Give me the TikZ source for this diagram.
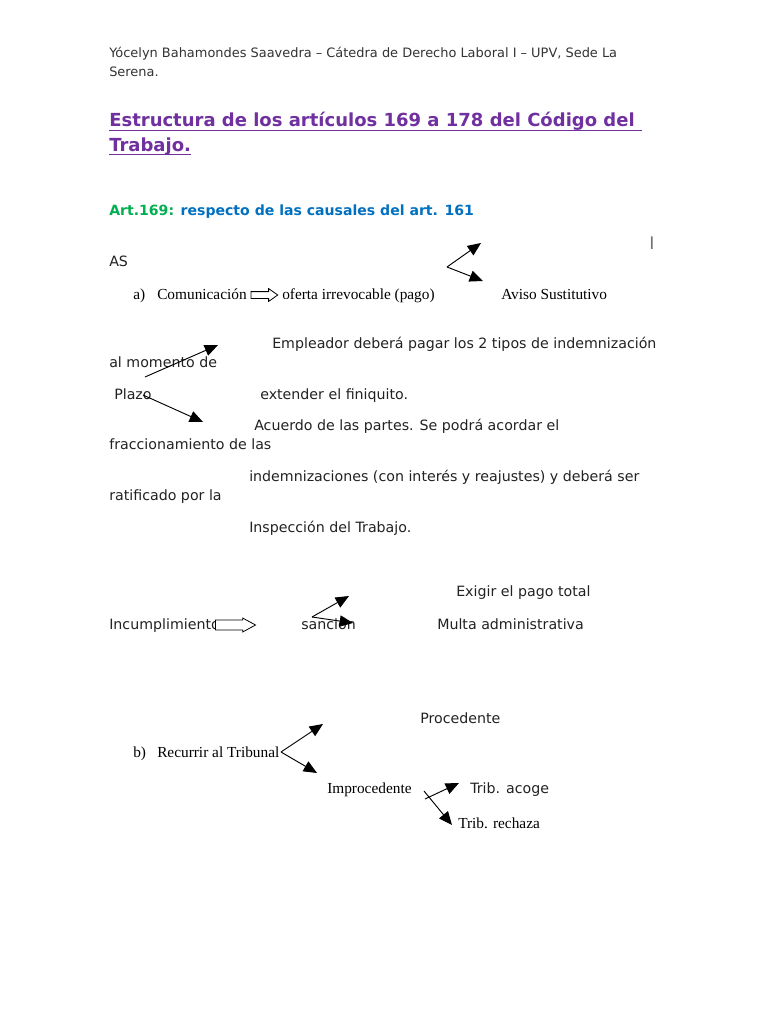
\documentclass[tikz,border=0pt]{standalone}
\usepackage{fontspec}
\setmainfont{DejaVu Sans}
\newfontfamily\timesfont{Liberation Serif}
\usetikzlibrary{arrows.meta, shapes.arrows}

\definecolor{titlepurple}{HTML}{7030A0}
\definecolor{artgreen}{HTML}{00B050}
\definecolor{artblue}{HTML}{0070C0}
\definecolor{bodytext}{HTML}{222222}

\begin{document}
\begin{tikzpicture}[
    x=0.75pt, y=-0.75pt,
    txt/.style={anchor=base west, inner sep=0pt, text=bodytext, font=\fontsize{10.65}{12}\selectfont},
    rm/.style={anchor=base west, inner sep=0pt, text=black, font=\timesfont\fontsize{11.5}{13}\selectfont},
    head/.style={anchor=base west, inner sep=0pt, text=black!80, font=\fontsize{9.7}{11}\selectfont},
    ttl/.style={anchor=base west, inner sep=0pt, text=titlepurple, font=\bfseries\fontsize{13.5}{15}\selectfont},
    ttlline/.style={draw=titlepurple, line width=1.1pt},
    tri/.style={-{Triangle[length=10pt, width=8.5pt]}, line width=0.7pt},
    openarrow/.style={single arrow, draw, fill=white, line width=0.6pt, inner xsep=0pt}
]
\useasboundingbox[fill=white] (0,0) rectangle (768,1024);

% Header and title
\node[head] (author) at (109,58) {Yócelyn Bahamondes Saavedra – Cátedra de Derecho Laboral I – UPV, Sede La};
\node[head] (author2) at (109,76) {Serena.};
\node[ttl] (title1) at (109,127) {Estructura de los artículos 169 a 178 del Código del};
\node[ttl] (title2) at (109,151) {Trabajo.};
\draw[ttlline] ([yshift=-2.6pt]title1.base west) -- ([xshift=5pt, yshift=-2.6pt]title1.base east);
\draw[ttlline] ([yshift=-2.6pt]title2.base west) -- ([yshift=-2.6pt]title2.base east);
\node[anchor=base west, inner sep=0pt, font=\bfseries\fontsize{10.55}{12}\selectfont] (art) at (109,215)
    {\textcolor{artgreen}{Art.169:} \textcolor{artblue}{respecto de las causales del art. 161}};

% a) Comunicacion
\node[anchor=base west, inner sep=0pt, text=black!55, font=\fontsize{13}{14}\selectfont] (bar) at (649,249) {I};
\node[txt] (as) at (109,266) {AS};
\node[rm] (a) at (133,299) {a)};
\node[rm] (comunic) at (157,299) {Comunicación};
\node[rm] (oferta) at (282,299) {oferta irrevocable (pago)};
\node[rm] (aviso) at (501,299) {Aviso Sustitutivo};
\node[openarrow, inner ysep=2.25pt, single arrow head extend=2.25pt, single arrow tip angle=70,
    minimum height=20pt] (imp1) at (262,295) {};

\coordinate (fork1) at (447,267);
\coordinate (fork1up) at (481,243);
\coordinate (fork1dn) at (483,281);
\draw[tri] (fork1) -- (fork1up);
\draw[tri] (fork1) -- (fork1dn);

% Plazo
\node[txt] (empleador) at (272,348) {Empleador deberá pagar los 2 tipos de indemnización};
\node[txt] (momento) at (109,367) {al momento de};
\node[txt] (plazo) at (114,399) {Plazo};
\node[txt] (finiquito) at (260,399) {extender el finiquito.};
\node[txt] (acuerdo) at (254,430) {Acuerdo de las partes. Se podrá acordar el};
\node[txt] (fracc) at (109,449) {fraccionamiento de las};
\node[txt] (indemn) at (249,481) {indemnizaciones (con interés y reajustes) y deberá ser};
\node[txt] (ratif) at (109,500) {ratificado por la};
\node[txt] (inspec) at (249,532) {Inspección del Trabajo.};

\coordinate (plazoA) at (145,377);
\coordinate (plazoAtip) at (218,345);
\coordinate (plazoB) at (143,395);
\coordinate (plazoBtip) at (203,422);
\draw[tri] (plazoA) -- (plazoAtip);
\draw[tri] (plazoB) -- (plazoBtip);

% Incumplimiento
\node[txt] (exigir) at (456,596) {Exigir el pago total};
\node[txt] (incump) at (109,629) {Incumplimiento};
\node[txt] (sancion) at (301,629) {sanción};
\node[txt] (multa) at (437,629) {Multa administrativa};
\node[openarrow, inner ysep=3.4pt, single arrow head extend=1.5pt, single arrow tip angle=57,
    minimum height=30pt] (imp2) at (231,625) {};

\coordinate (fork2) at (312,617);
\coordinate (fork2up) at (349,596);
\coordinate (fork2dn) at (353,623);
\draw[tri] (fork2) -- (fork2up);
\draw[tri] (fork2) -- (fork2dn);

% b) Recurrir al Tribunal
\node[txt] (procede) at (420,723) {Procedente};
\node[rm] (b) at (133,757) {b)};
\node[rm] (recurrir) at (157,757) {Recurrir al Tribunal};
\node[rm] (improc) at (327,793) {Improcedente};
\node[txt] (acoge) at (470,793) {Trib. acoge};
\node[rm] (rechaza) at (458,828) {Trib. rechaza};

\coordinate (fork3) at (281,752);
\coordinate (fork3up) at (323,724);
\coordinate (fork3dn) at (317,773);
\draw[tri] (fork3) -- (fork3up);
\draw[tri] (fork3) -- (fork3dn);

\coordinate (fork4a) at (425,799);
\coordinate (fork4up) at (459,783);
\coordinate (fork4b) at (424,791);
\coordinate (fork4dn) at (452,825);
\draw[tri] (fork4a) -- (fork4up);
\draw[tri] (fork4b) -- (fork4dn);

\end{tikzpicture}
\end{document}
